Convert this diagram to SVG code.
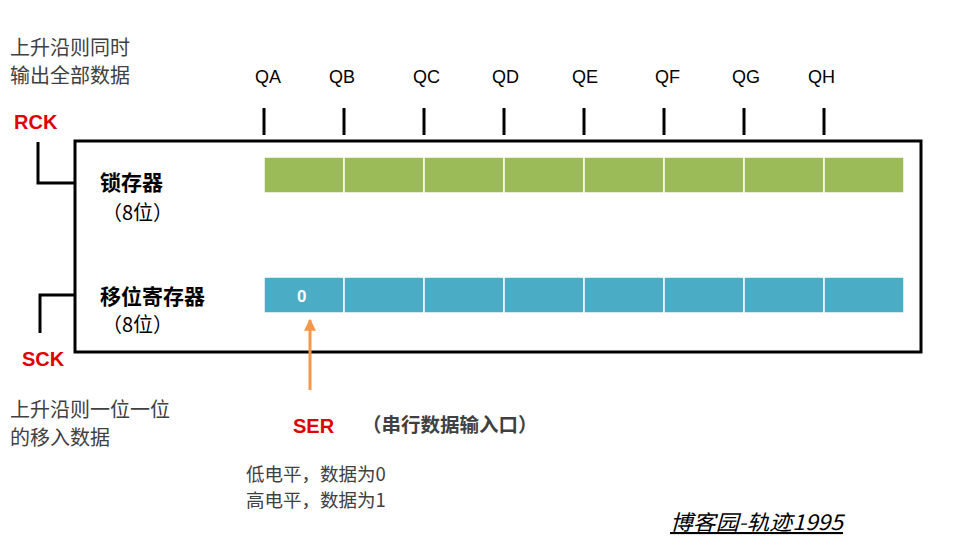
<svg xmlns="http://www.w3.org/2000/svg" width="955" height="553" viewBox="0 0 955 553">
<defs>
<style>
.t{font-family:"Noto Sans CJK SC","Liberation Sans",sans-serif;font-size:20px;fill:#404040}
.s{font-family:"Noto Sans CJK SC","Liberation Sans",sans-serif;font-size:18.5px;fill:#404040}
.q{font-family:"Liberation Sans",sans-serif;font-size:18px;fill:#000}
.r{font-family:"Liberation Sans",sans-serif;font-size:20px;font-weight:bold;fill:#e00000}
.b{font-family:"Noto Sans CJK SC",sans-serif;font-size:21px;font-weight:bold;fill:#000}
.g{fill:#9bbb59;stroke:#fff;stroke-width:1.5}
.c{fill:#4bacc6;stroke:#fff;stroke-width:1.5}
.k{stroke:#000;stroke-width:3;fill:none}
</style>
<marker id="ah" viewBox="0 0 10 10" refX="9" refY="5" markerWidth="4" markerHeight="4" orient="auto"><path d="M0,0L10,5L0,10z" fill="#f79646"/></marker>
</defs>
<rect width="955" height="553" fill="#fff"/>
<g id="box"><rect x="75" y="141" width="846" height="211" fill="#fff" stroke="#000" stroke-width="3"/></g>
<g id="latch">
<rect class="g" x="264" y="157" width="80" height="36"/><rect class="g" x="344" y="157" width="80" height="36"/><rect class="g" x="424" y="157" width="80" height="36"/><rect class="g" x="504" y="157" width="80" height="36"/><rect class="g" x="584" y="157" width="80" height="36"/><rect class="g" x="664" y="157" width="80" height="36"/><rect class="g" x="744" y="157" width="80" height="36"/><rect class="g" x="824" y="157" width="80" height="36"/>
<text class="b" x="100" y="190">锁存器</text><text class="t" x="102" y="220" style="fill:#000">（8位）</text>
</g>
<g id="shift">
<rect class="c" x="264" y="277" width="80" height="36"/><rect class="c" x="344" y="277" width="80" height="36"/><rect class="c" x="424" y="277" width="80" height="36"/><rect class="c" x="504" y="277" width="80" height="36"/><rect class="c" x="584" y="277" width="80" height="36"/><rect class="c" x="664" y="277" width="80" height="36"/><rect class="c" x="744" y="277" width="80" height="36"/><rect class="c" x="824" y="277" width="80" height="36"/>
<text x="297" y="302" style="font-family:'Liberation Sans',sans-serif;font-size:17px;font-weight:bold;fill:#fff">0</text>
<text class="b" x="100" y="304">移位寄存器</text><text class="t" x="102" y="332" style="fill:#000">（8位）</text>
</g>
<g id="outputs">
<text class="q" x="255" y="83">QA</text><text class="q" x="329" y="83">QB</text><text class="q" x="413" y="83">QC</text><text class="q" x="492" y="83">QD</text><text class="q" x="572" y="83">QE</text><text class="q" x="655" y="83">QF</text><text class="q" x="732" y="83">QG</text><text class="q" x="808" y="83">QH</text>
</g>
<g id="connectors">
<path class="k" d="M264,108V135M344,108V135M424,108V135M504,108V135M584,108V135M664,108V135M744,108V135M824,108V135"/>
<path class="k" d="M38,142V183H75"/>
<path class="k" d="M75,295H40V333"/>
<line x1="310" y1="390" x2="310" y2="320" stroke="#f79646" stroke-width="3" marker-end="url(#ah)"/>
</g>
<g id="labels">
<text class="t" x="10" y="55">上升沿则同时</text><text class="t" x="10" y="83">输出全部数据</text>
<text class="r" x="14" y="129">RCK</text>
<text class="r" x="22" y="366">SCK</text>
<text class="t" x="10" y="417">上升沿则一位一位</text><text class="t" x="10" y="445">的移入数据</text>
<text class="r" x="293" y="433">SER</text>
<text class="b" x="362" y="432" style="font-size:19.5px;fill:#404040">（串行数据输入口）</text>
<text class="s" x="246" y="481">低电平，数据为0</text><text class="s" x="246" y="507">高电平，数据为1</text>
<text x="670" y="530" textLength="173" lengthAdjust="spacingAndGlyphs" style="font-family:'Noto Sans CJK SC',sans-serif;font-size:21px;font-style:italic;text-decoration:underline;fill:#000">博客园-轨迹1995</text>
</g>
</svg>
